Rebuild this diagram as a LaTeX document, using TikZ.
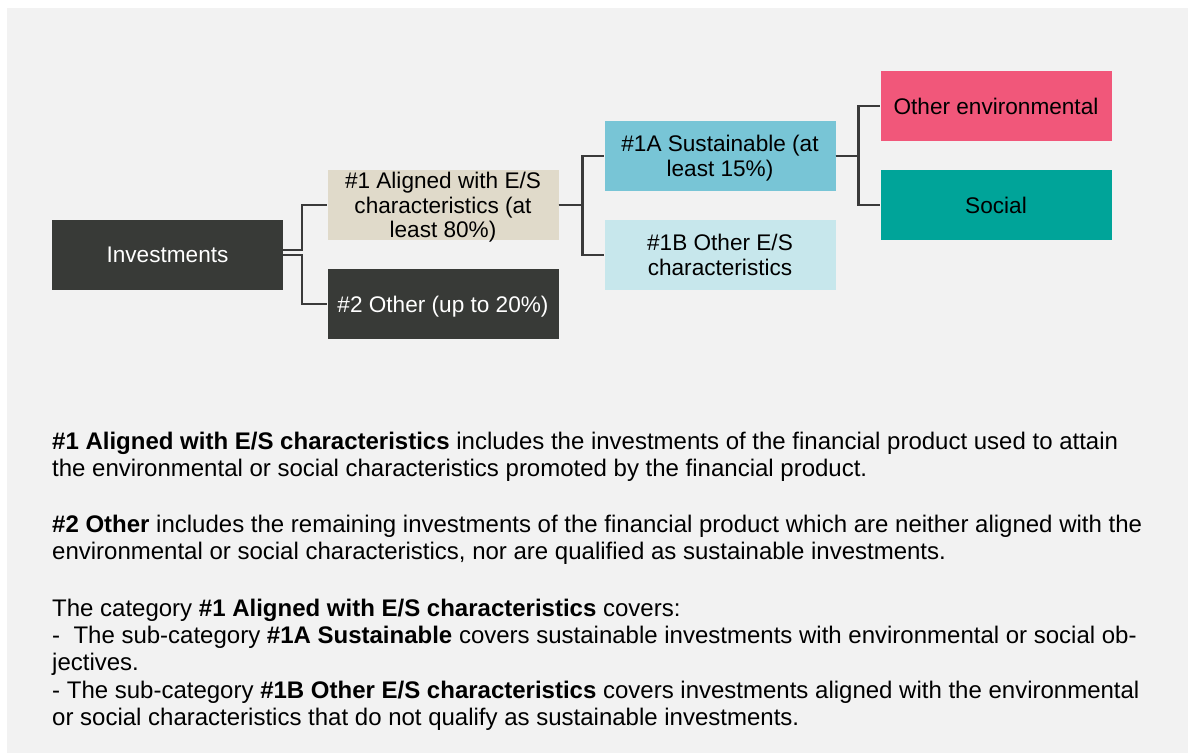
\documentclass[tikz,border=0pt]{standalone}
\usepackage{fontspec}
\setmainfont{Liberation Sans}
\definecolor{bg}{HTML}{F2F2F2}
\definecolor{darkbox}{HTML}{383A37}
\definecolor{beige}{HTML}{E0DACA}
\definecolor{cyanA}{HTML}{78C5D6}
\definecolor{cyanB}{HTML}{C7E7EC}
\definecolor{pinkbox}{HTML}{F1577A}
\definecolor{tealbox}{HTML}{00A499}
\definecolor{linecol}{HTML}{3A3A3A}
\begin{document}
\begin{tikzpicture}[x=1pt,y=-1pt,
  box/.style={rectangle, minimum width=231pt, minimum height=70pt, inner sep=0pt, align=center,
    text depth=0pt, font=\fontsize{22.6}{24.5}\selectfont},
  darkb/.style={box, fill=darkbox, text=white},
  conn/.style={draw=linecol, line width=2.5pt},
  body/.style={anchor=base west, inner sep=0pt, font=\fontsize{24}{27}\selectfont}]
\useasboundingbox (0,0) rectangle (1188,753);
\fill[bg] (7,8) rectangle (1188,753);
\node[darkb] (inv) at (167.5,255) {Investments};
\node[box, fill=beige] (a1) at (443,205) {\#1 Aligned with E/S\\characteristics (at\\least 80\%)};
\node[darkb] (a2) at (443,304) {\#2 Other (up to 20\%)};
\node[box, fill=cyanA] (s1a) at (720,156) {\#1A Sustainable (at\\least 15\%)};
\node[box, fill=cyanB] (s1b) at (720,255) {\#1B Other E/S\\characteristics};
\node[box, fill=pinkbox] (env) at (996,106) {Other environmental};
\node[box, fill=tealbox] (soc) at (996,205) {Social};
\draw[conn] ([yshift=5pt]inv.east) -- ++(19,0) |- (a1.west);
\draw[conn] ([yshift=0pt]inv.east) -- ++(19,0) |- (a2.west);
\draw[conn] (a1.east) -- ++(24,0) |- (s1a.west);
\draw[conn] (a1.east) -- ++(24,0) |- (s1b.west);
\draw[conn] (s1a.east) -- ++(23,0) |- (env.west);
\draw[conn] (s1a.east) -- ++(23,0) |- (soc.west);
\node[body] (t1) at (52,449) {\textbf{\#1 Aligned with E/S characteristics} includes the investments of the financial product used to attain};
\node[body] (t2) at (52,476) {the environmental or social characteristics promoted by the financial product.};
\node[body] (t3) at (52,532) {\textbf{\#2 Other} includes the remaining investments of the financial product which are neither aligned with the};
\node[body] (t4) at (52,559) {environmental or social characteristics, nor are qualified as sustainable investments.};
\node[body] (t5) at (52,616) {The category \textbf{\#1 Aligned with E/S characteristics} covers:};
\node[body] (t6) at (52,643) {-\ \ The sub-category \textbf{\#1A Sustainable} covers sustainable investments with environmental or social ob-};
\node[body] (t7) at (52,670) {jectives.};
\node[body] (t8) at (52,698) {- The sub-category \textbf{\#1B Other E/S characteristics} covers investments aligned with the environmental};
\node[body] (t9) at (52,725) {or social characteristics that do not qualify as sustainable investments.};
\end{tikzpicture}
\end{document}
